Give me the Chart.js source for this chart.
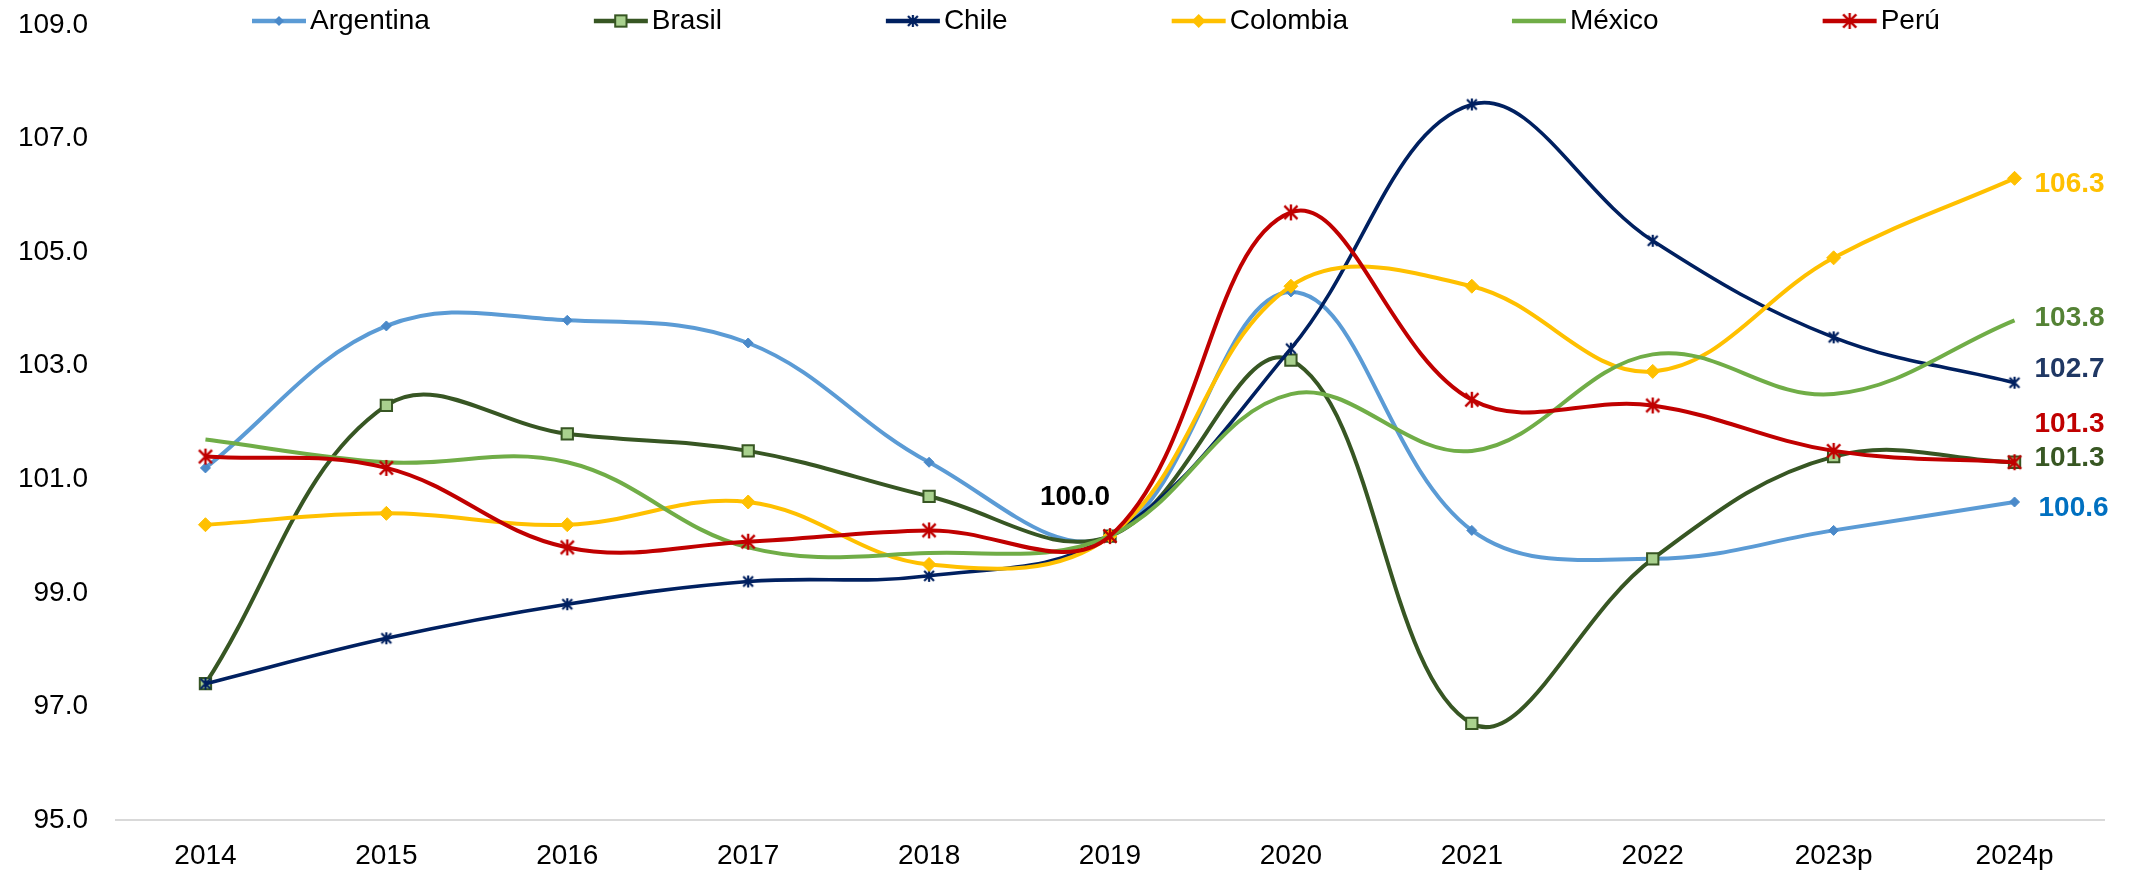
<!DOCTYPE html>
<html>
<head>
<meta charset="utf-8">
<script src="https://cdn.jsdelivr.net/npm/chart.js@4/dist/chart.umd.min.js"></script>
<style>
  html, body { margin: 0; padding: 0; background: #ffffff; overflow: hidden; }
  canvas { display: block; }
</style>
</head>
<body>
<canvas id="chart" width="2131" height="872"></canvas>
<script>
// Categories (x axis)
const years = ['2014', '2015', '2016', '2017', '2018', '2019', '2020', '2021', '2022', '2023p', '2024p'];

// Index values, 2019 = 100
const argentina = [101.2, 103.7, 103.8, 103.4, 101.3, 100.0, 104.3, 100.1, 99.6, 100.1, 100.6];
const brasil    = [97.4, 102.3, 101.8, 101.5, 100.7, 100.0, 103.1, 96.7, 99.6, 101.4, 101.3];
const chile     = [97.4, 98.2, 98.8, 99.2, 99.3, 100.0, 103.3, 107.6, 105.2, 103.5, 102.7];
const colombia  = [100.2, 100.4, 100.2, 100.6, 99.5, 100.0, 104.4, 104.4, 102.9, 104.9, 106.3];
const mexico    = [101.7, 101.3, 101.3, 99.8, 99.7, 100.0, 102.5, 101.5, 103.2, 102.5, 103.8];
const peru      = [101.4, 101.2, 99.8, 99.9, 100.1, 100.0, 105.7, 102.4, 102.3, 101.5, 101.3];

// Y axis tick values
const yTicks = [95, 97, 99, 101, 103, 105, 107, 109];

// Base year position (labelled once)
const baseYearIndex = 5;

const seriesNames  = ['Argentina', 'Brasil', 'Chile', 'Colombia', 'México', 'Perú'];
const seriesValues = [argentina, brasil, chile, colombia, mexico, peru];
const lineColors   = ['#5B9BD5', '#375623', '#002060', '#FFC000', '#70AD47', '#C00000'];
const endLabelColors = ['#0070C0', '#385723', '#203864', '#FFC000', '#548235', '#C00000'];
// vertical nudges of the end-of-line value labels, so they do not collide
const endLabelShift = [6, -4, -13, 6, -2, -38];
const endLabelGap   = [24, 20, 20, 20, 20, 20];

const FONT = "'Liberation Sans', Arial, Helvetica, sans-serif";

// asterisk marker drawn on a small canvas (X plus vertical stroke)
function asteriskMarker(half, color, width) {
  const pad = 2;
  const s = half * 2 + pad * 2;
  const c = document.createElement('canvas');
  c.width = s; c.height = s;
  const g = c.getContext('2d');
  g.strokeStyle = color;
  g.lineWidth = width;
  g.lineCap = 'butt';
  const m = s / 2;
  const d = half * 0.82;
  g.beginPath();
  g.moveTo(m - d, m - d); g.lineTo(m + d, m + d);
  g.moveTo(m + d, m - d); g.lineTo(m - d, m + d);
  g.moveTo(m, m - half); g.lineTo(m, m + half);
  g.stroke();
  return c;
}

const chileStar = asteriskMarker(6, '#002060', 2.2);
const peruStar  = asteriskMarker(8, '#C00000', 2.4);

const markerStyles = [
  { pointStyle: 'rectRot', pointRadius: 5, pointBackgroundColor: '#4A89C9', pointBorderColor: '#4A89C9', pointBorderWidth: 1 },
  { pointStyle: 'rect', pointRadius: 8, pointBackgroundColor: '#A9D18E', pointBorderColor: '#375623', pointBorderWidth: 2 },
  { pointStyle: chileStar, pointRadius: 6 },
  { pointStyle: 'rectRot', pointRadius: 7, pointBackgroundColor: '#FFC000', pointBorderColor: '#FFC000', pointBorderWidth: 1 },
  { pointStyle: 'circle', pointRadius: 0 },
  { pointStyle: peruStar, pointRadius: 8 }
];

const datasets = seriesNames.map((name, i) => Object.assign({
  label: name,
  data: seriesValues[i],
  borderColor: lineColors[i],
  backgroundColor: lineColors[i],
  borderWidth: i === 2 ? 3.6 : 4,
  tension: 0.38,
  fill: false,
  pointHoverRadius: 0,
  order: seriesNames.length - i
}, markerStyles[i]));

// Legend across the top: line sample, marker, name
const topLegend = {
  id: 'topLegend',
  afterDraw(chart) {
    const ctx = chart.ctx;
    ctx.save();
    ctx.font = '28px ' + FONT;
    ctx.textBaseline = 'middle';
    ctx.textAlign = 'left';
    const y = 21;
    let x = 252;
    seriesNames.forEach((name, i) => {
      ctx.strokeStyle = lineColors[i];
      ctx.lineWidth = 4.5;
      ctx.beginPath();
      ctx.moveTo(x, y);
      ctx.lineTo(x + 54, y);
      ctx.stroke();
      const cx = x + 27;
      const st = markerStyles[i];
      if (st.pointStyle === 'rectRot' && st.pointRadius > 0) {
        const r = st.pointRadius;
        ctx.fillStyle = st.pointBackgroundColor;
        ctx.beginPath();
        ctx.moveTo(cx, y - r); ctx.lineTo(cx + r, y); ctx.lineTo(cx, y + r); ctx.lineTo(cx - r, y);
        ctx.closePath();
        ctx.fill();
      } else if (st.pointStyle === 'rect') {
        const h = st.pointRadius * Math.SQRT1_2;
        ctx.fillStyle = st.pointBackgroundColor;
        ctx.strokeStyle = st.pointBorderColor;
        ctx.lineWidth = st.pointBorderWidth;
        ctx.fillRect(cx - h, y - h, 2 * h, 2 * h);
        ctx.strokeRect(cx - h, y - h, 2 * h, 2 * h);
      } else if (st.pointStyle instanceof HTMLCanvasElement) {
        const im = st.pointStyle;
        ctx.drawImage(im, cx - im.width / 2, y - im.height / 2);
      }
      ctx.fillStyle = '#000000';
      const tx = x + 58;
      ctx.fillText(name, tx, y);
      x = tx + ctx.measureText(name).width + 164;
    });
    ctx.restore();
  }
};

// Value labels: base year, and the last point of each series
const valueLabels = {
  id: 'valueLabels',
  afterDatasetsDraw(chart) {
    const ctx = chart.ctx;
    ctx.save();
    ctx.font = 'bold 28px ' + FONT;
    ctx.textBaseline = 'middle';

    const base = chart.getDatasetMeta(0).data[baseYearIndex];
    ctx.textAlign = 'right';
    ctx.fillStyle = '#000000';
    ctx.fillText(seriesValues[0][baseYearIndex].toFixed(1), base.x, base.y - 39);

    ctx.textAlign = 'left';
    seriesValues.forEach((vals, i) => {
      const meta = chart.getDatasetMeta(i);
      const last = vals.length - 1;
      const pt = meta.data[last];
      ctx.fillStyle = endLabelColors[i];
      ctx.fillText(vals[last].toFixed(1), pt.x + endLabelGap[i], pt.y + endLabelShift[i]);
    });
    ctx.restore();
  }
};

new Chart(document.getElementById('chart'), {
  type: 'line',
  data: { labels: years, datasets },
  options: {
    responsive: false,
    animation: false,
    devicePixelRatio: 1,
    layout: { padding: { top: 25, right: 26, bottom: 0, left: 0 } },
    plugins: {
      legend: { display: false },
      tooltip: { enabled: false }
    },
    elements: { line: { capBezierPoints: false } },
    scales: {
      x: {
        type: 'category',
        offset: true,
        grid: { display: false, drawTicks: false },
        border: { display: false },
        ticks: {
          color: '#000000',
          font: { family: FONT, size: 28 },
          padding: 19,
          maxRotation: 0,
          autoSkip: false
        },
        afterFit(scale) { scale.height = 52; }
      },
      y: {
        min: 95,
        max: 109,
        afterBuildTicks(scale) { scale.ticks = yTicks.map(v => ({ value: v })); },
        grid: {
          drawTicks: false,
          lineWidth: 2,
          color: (c) => (c.tick && c.tick.value === yTicks[0]) ? '#D9D9D9' : 'rgba(0,0,0,0)'
        },
        border: { display: false },
        ticks: {
          color: '#000000',
          font: { family: FONT, size: 28 },
          padding: 27,
          callback: (v) => Number(v).toFixed(1)
        },
        afterFit(scale) {
          scale.width = 115;
          scale.paddingTop = 0;
          scale.paddingBottom = 0;
        }
      }
    }
  },
  plugins: [topLegend, valueLabels]
});
</script>
</body>
</html>
